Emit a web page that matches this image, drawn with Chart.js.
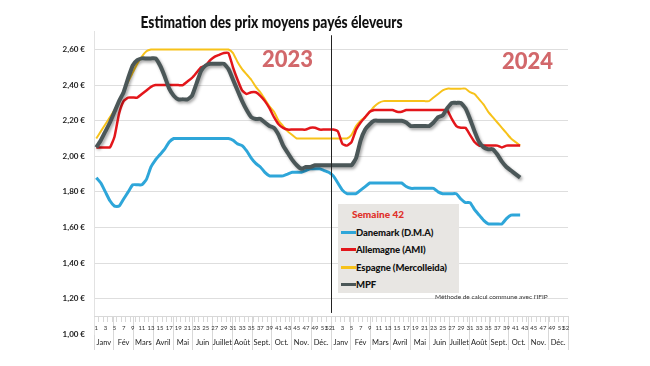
<!DOCTYPE html>
<html>
<head>
<meta charset="utf-8">
<title>Estimation des prix moyens payés éleveurs</title>
<script src="https://cdn.jsdelivr.net/npm/chart.js"></script>
<style>
body { margin: 0; background: #fff; font-family: Lato, "Liberation Sans", sans-serif; }
#wrap { position: relative; width: 650px; height: 366px; }
#title { position: absolute; left: 0; top: 12px; width: 542px; text-align: center; font-size: 16px; line-height: 19px; font-weight: 900; color: #111; }
#title span { display: inline-block; transform-origin: center; white-space: nowrap; }
.year { position: absolute; font-weight: 900; font-size: 22px; line-height: 26px; color: #d2686b; }
#legend { position: absolute; left: 338px; top: 204px; width: 121px; height: 89px; background: #e8e6e3; }
#legend .head { color: #e0302a; font-weight: 900; font-size: 10px; line-height: 14px; margin: 3px 0 2.5px 14px; }
#legend .item { display: flex; align-items: center; height: 17.5px; font-weight: 900; font-size: 9.5px; color: #111; white-space: nowrap; letter-spacing: -0.1px; }
#legend .item span.mark { display: inline-block; width: 15px; height: 3px; margin-left: 3px; }
#note { position: absolute; left: 435px; top: 293px; font-size: 6.5px; color: #333; white-space: nowrap; }
</style>
</head>
<body>
<div id="wrap">
  <canvas id="chart" width="650" height="366"></canvas>
  <div id="title"><span>Estimation des prix moyens payés éleveurs</span></div>
  <div class="year" style="left:262px; top:46px;">2023</div>
  <div class="year" style="left:502px; top:48px;">2024</div>
  <div id="legend"><div class="head">Semaine 42</div></div>
  <div id="note">Méthode de calcul commune avec l'IFIP</div>
</div>

<script>
// semaines (2023 puis 2024)
const weeks = ["1","2","3","4","5","6","7","8","9","10","11","12","13","14","15","16","17","18","19","20","21","22","23","24","25","26",
  "27","28","29","30","31","32","33","34","35","36","37","38","39","40","41","42","43","44","45","46","47","48","49","50","51","52"];
const months = ["Janv","Fév","Mars","Avril","Mai","Juin","Juillet","Août","Sept.","Oct.","Nov.","Déc."];

const names = ["Danemark (D.M.A)", "Allemagne (AMI)", "Espagne (Mercolleida)", "MPF"];
const colors = ["#2ea6d9", "#e3161b", "#f7c21a", "#4b5758"];

// prix €/kg, semaine 1 2023 -> semaine 42 2024
const danemark = [
  1.88,1.85,1.80,1.75,1.72,1.72,1.76,1.80,1.84,1.84,
  1.84,1.87,1.94,1.98,2.01,2.04,2.08,2.10,2.10,2.10,
  2.10,2.10,2.10,2.10,2.10,2.10,2.10,2.10,2.10,2.10,
  2.09,2.07,2.06,2.03,1.99,1.96,1.94,1.91,1.89,1.89,
  1.89,1.89,1.90,1.91,1.91,1.91,1.92,1.93,1.93,1.93,
  1.92,1.91,
  1.89,1.85,1.81,1.79,1.79,1.79,1.81,1.83,1.85,1.85,
  1.85,1.85,1.85,1.85,1.85,1.85,1.83,1.82,1.82,1.82,
  1.82,1.82,1.82,1.80,1.79,1.79,1.79,1.79,1.76,1.74,
  1.74,1.70,1.67,1.64,1.62,1.62,1.62,1.62,1.65,1.67,
  1.67,1.67
];
const allemagne = [
  2.05,2.05,2.05,2.05,2.11,2.24,2.31,2.33,2.33,2.33,
  2.35,2.37,2.39,2.40,2.40,2.40,2.40,2.40,2.40,2.40,
  2.42,2.44,2.47,2.50,2.51,2.54,2.56,2.57,2.58,2.58,
  2.50,2.43,2.37,2.35,2.36,2.36,2.34,2.31,2.27,2.22,
  2.18,2.16,2.15,2.15,2.15,2.15,2.15,2.16,2.16,2.15,
  2.15,2.15,
  2.15,2.14,2.07,2.06,2.08,2.15,2.19,2.22,2.25,2.26,
  2.26,2.26,2.26,2.26,2.25,2.25,2.26,2.26,2.26,2.26,
  2.26,2.26,2.26,2.26,2.26,2.26,2.21,2.17,2.16,2.16,
  2.12,2.08,2.06,2.06,2.06,2.06,2.06,2.05,2.06,2.06,
  2.06,2.06
];
const espagne = [
  2.10,2.14,2.18,2.22,2.26,2.31,2.36,2.42,2.47,2.52,
  2.56,2.59,2.60,2.60,2.60,2.60,2.60,2.60,2.60,2.60,
  2.60,2.60,2.60,2.60,2.60,2.60,2.60,2.60,2.60,2.60,
  2.58,2.53,2.49,2.46,2.43,2.39,2.36,2.32,2.28,2.25,
  2.20,2.17,2.14,2.12,2.10,2.10,2.10,2.10,2.10,2.10,
  2.10,2.10,
  2.10,2.10,2.10,2.10,2.12,2.17,2.20,2.22,2.25,2.28,
  2.30,2.31,2.31,2.31,2.31,2.31,2.31,2.31,2.31,2.31,
  2.31,2.31,2.33,2.35,2.37,2.38,2.38,2.38,2.38,2.38,
  2.36,2.35,2.32,2.29,2.25,2.22,2.19,2.16,2.13,2.10,
  2.08,2.06
];
const mpf = [
  2.05,2.09,2.14,2.19,2.25,2.31,2.36,2.44,2.51,2.54,
  2.55,2.55,2.55,2.55,2.51,2.45,2.38,2.34,2.32,2.32,
  2.32,2.34,2.41,2.48,2.51,2.52,2.52,2.52,2.52,2.49,
  2.43,2.37,2.31,2.26,2.22,2.21,2.21,2.19,2.17,2.16,
  2.12,2.06,2.02,1.98,1.95,1.93,1.94,1.94,1.95,1.95,
  1.95,1.95,
  1.95,1.95,1.95,1.95,1.95,1.99,2.09,2.15,2.18,2.20,
  2.20,2.20,2.20,2.20,2.20,2.20,2.19,2.17,2.17,2.17,
  2.17,2.17,2.19,2.22,2.23,2.27,2.30,2.30,2.30,2.27,
  2.21,2.14,2.08,2.05,2.04,2.04,2.01,1.97,1.94,1.92,
  1.90,1.88
];

const FONT = "Lato, 'Liberation Sans', sans-serif";
const labels = weeks.concat(weeks);
const monthLabels = months.concat(months);
const series = [danemark, allemagne, espagne, mpf];
const widths = [3, 2.5, 2, 4];
const drawOrder = [3, 1, 2, 0];

// titre un peu resserré (police étroite dans l'original)
const t = document.querySelector("#title span");
t.style.transform = "scaleX(" + (262 / t.offsetWidth) + ")";

// légende
const legendBox = document.getElementById("legend");
names.forEach((n, i) => {
  const row = document.createElement("div");
  row.className = "item";
  row.innerHTML = '<span class="mark" style="background:' + colors[i] + '"></span>' + n;
  legendBox.appendChild(row);
});

// trait vertical entre 2023 et 2024
const separator = {
  id: "separator",
  afterDatasetsDraw(chart) {
    const x = (chart.scales.x.getPixelForValue(51) + chart.scales.x.getPixelForValue(52)) / 2;
    const y = chart.scales.y;
    const ctx = chart.ctx;
    ctx.save();
    ctx.strokeStyle = "#222";
    ctx.lineWidth = 1;
    ctx.beginPath();
    ctx.moveTo(Math.round(x) + 0.5, y.getPixelForValue(2.68));
    ctx.lineTo(Math.round(x) + 0.5, y.getPixelForValue(1.12));
    ctx.stroke();
    ctx.restore();
  }
};

// ombre sous la courbe MPF
const shadow = {
  id: "shadow",
  beforeDatasetDraw(chart, args) {
    if (args.index !== 3) return;
    const ctx = chart.ctx;
    ctx.save();
    ctx.shadowColor = "rgba(0,0,0,0.35)";
    ctx.shadowBlur = 3;
    ctx.shadowOffsetX = 1.5;
    ctx.shadowOffsetY = 2;
  },
  afterDatasetDraw(chart, args) {
    if (args.index === 3) chart.ctx.restore();
  }
};

new Chart(document.getElementById("chart"), {
  type: "line",
  data: {
    labels: labels,
    datasets: series.map((d, i) => ({
      label: names[i],
      data: d,
      borderColor: colors[i],
      borderWidth: widths[i],
      pointRadius: 0,
      tension: 0.15,
      fill: false,
      order: drawOrder[i]
    }))
  },
  options: {
    responsive: false,
    animation: false,
    layout: { padding: { left: 0, right: 82, top: 31.7, bottom: 31.7 } },
    plugins: {
      legend: { display: false },
      tooltip: { enabled: false },
      title: { display: false }
    },
    scales: {
      y: {
        min: 1.0,
        max: 2.7,
        afterFit(s) { s.width = 94; },
        ticks: {
          stepSize: 0.2,
          includeBounds: false,
          padding: 9,
          color: "#222",
          font: { family: FONT, size: 8, weight: "bold" },
          callback: v => v.toFixed(2).replace(".", ",") + " €"
        },
        grid: {
          drawTicks: false,
          color: c => (c.tick && c.tick.value < 1.1) ? "rgba(0,0,0,0)" : "#dedede"
        },
        border: { color: "#e2e2e2" }
      },
      x: {
        type: "category",
        position: { y: 1.1 },
        offset: true,
        grid: { drawOnChartArea: false, offset: true, tickLength: 5, color: "#d8d8d8" },
        border: { color: "#d8d8d8" },
        ticks: {
          autoSkip: false,
          maxRotation: 0,
          padding: 3,
          color: "#333",
          font: { family: FONT, size: 6 },
          callback: function (v) {
            const w = +this.getLabelForValue(v);
            return (w % 2 === 1 || w === 52) ? String(w) : "";
          }
        }
      },
      xm: {
        type: "category",
        labels: monthLabels,
        position: { y: 1.1 },
        offset: true,
        grid: { drawOnChartArea: false, offset: true, tickLength: 33, color: "#d8d8d8" },
        border: { color: "#d8d8d8" },
        ticks: {
          autoSkip: false,
          maxRotation: 0,
          padding: -11,
          color: "#222",
          font: { family: FONT, size: 7.5 }
        }
      }
    }
  },
  plugins: [separator, shadow]
});
</script>
</body>
</html>
